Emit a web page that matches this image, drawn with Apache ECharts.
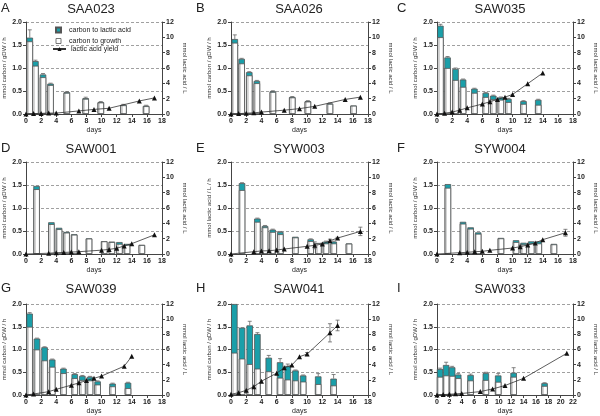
<!DOCTYPE html>
<html><head><meta charset="utf-8">
<script src="https://cdn.jsdelivr.net/npm/echarts@6/dist/echarts.min.js"></script>
<style>html,body{margin:0;padding:0;background:#fff}#c{width:600px;height:416px}</style>
</head><body><div id="c"></div>
<script>
// ---------- labels ----------
const panelLetters = ['A','B','C','D','E','F','G','H','I'];
const panelTitles = ['SAA023','SAA026','SAW035','SAW001','SYW003','SYW004','SAW039','SAW041','SAW033'];
const leftAxisNames = ['mmol carbon / gDW / h','mmol carbon / gDW / h','mmol carbon / gDW / h',
  'mmol carbon / gDW / h','mmol lactic acid / L / h','mmol carbon / gDW / h',
  'mmol carbon / gDW / h','mmol carbon / gDW / h','mmol carbon / gDW / h'];
const rightAxisName = 'mmol lactic acid / L';
const xAxisName = 'days';
const xMaxDays = [18,18,18,18,18,18,18,18,22];
const seriesNames = ['carbon to lactic acid','carbon to growth','lactic acid yield'];

// ---------- data ----------
// A SAA023
const A_barDays = [0.5,1.25,2.25,3.25,5.4,7.9,9.9,12.9,15.9];
const A_growth  = [1.58,1.05,0.80,0.63,0.46,0.33,0.25,0.19,0.17];
const A_lactic  = [0.08,0.10,0.06,0.03,0.015,0.015,0.01,0.01,0.01];
const A_barErr  = [0.17,0.02,0.02,0.01,0.01,0.02,0.01,0.01,0.01];
const A_yDays   = [0,1,2,3,4,7,9,11,15,17];
const A_yield   = [0,0.05,0.08,0.12,0.12,0.4,0.6,0.75,1.7,2.1];
const A_yErr    = [0,0,0,0,0,0,0,0,0,0];
// B SAA026
const B_barDays = [0.5,1.4,2.4,3.4,5.5,8.05,10.1,13.0,16.1];
const B_growth  = [1.55,1.10,0.84,0.67,0.48,0.36,0.27,0.22,0.18];
const B_lactic  = [0.08,0.10,0.07,0.05,0.015,0.01,0.01,0.01,0.005];
const B_barErr  = [0.09,0.01,0.01,0.01,0.01,0.01,0.01,0.01,0.0];
const B_yDays   = [0,1,2,3,4,7,9,11,15,17];
const B_yield   = [0,0.05,0.1,0.15,0.25,0.5,0.7,1.0,1.9,2.2];
const B_yErr    = [0,0,0,0,0,0,0,0,0,0];
// C SAW035
const C_barDays = [0.45,1.4,2.45,3.45,4.95,6.45,7.45,8.45,9.45,11.45,13.4];
const C_growth  = [1.67,1.0,0.74,0.59,0.46,0.37,0.32,0.31,0.26,0.22,0.2];
const C_lactic  = [0.25,0.23,0.24,0.16,0.09,0.09,0.08,0.05,0.07,0.06,0.11];
const C_barErr  = [0.03,0.02,0.02,0.01,0.01,0.01,0.01,0.01,0.01,0.01,0.01];
const C_yDays   = [0,1,2,3,4,6,7,8,9,10,12,14];
const C_yield   = [0,0.1,0.25,0.5,0.8,1.3,1.6,1.9,2.2,2.55,3.95,5.35];
const C_yErr    = [0,0,0,0,0,0,0,0,0,0,0,0];
// D SAW001
const D_barDays = [1.4,3.36,4.37,5.37,6.38,8.34,10.35,11.36,12.36,13.37,15.33];
const D_growth  = [1.41,0.65,0.54,0.465,0.42,0.335,0.275,0.26,0.22,0.2,0.195];
const D_lactic  = [0.07,0.04,0.03,0.015,0.01,0.005,0.005,0.01,0.04,0.02,0.005];
const D_barErr  = [0,0,0,0,0,0,0,0,0,0,0];
const D_yDays   = [0,3,4,5,6,7,10,11,12,13,14,17];
const D_yield   = [0,0.1,0.17,0.2,0.25,0.3,0.5,0.6,0.75,1.05,1.35,2.5];
const D_yErr    = [0,0,0,0,0,0,0,0,0,0,0,0];
// E SYW003
const E_barDays = [1.45,3.46,4.47,5.48,6.48,8.45,10.47,11.48,12.48,13.5,15.5];
const E_growth  = [1.39,0.70,0.58,0.48,0.43,0.36,0.28,0.235,0.23,0.23,0.225];
const E_lactic  = [0.15,0.07,0.03,0.05,0.05,0.015,0.04,0.005,0.04,0.04,0.005];
const E_barErr  = [0.01,0.01,0.01,0.01,0.01,0,0.01,0,0.01,0.01,0];
const E_yDays   = [0,3,4,5,6,7,10,11,12,13,14,17];
const E_yield   = [0,0.3,0.4,0.43,0.52,0.65,1.0,1.13,1.3,1.73,2.08,2.95];
const E_yErr    = [0,0,0,0,0,0,0,0.45,0.1,0.2,0.1,0.55];
// F SYW004
const F_barDays = [1.44,3.44,4.45,5.45,8.46,10.46,11.46,12.47,13.47,15.47];
const F_growth  = [1.44,0.66,0.55,0.44,0.34,0.26,0.21,0.23,0.23,0.21];
const F_lactic  = [0.08,0.04,0.03,0.03,0.01,0.04,0.035,0.045,0.045,0.01];
const F_barErr  = [0,0,0,0,0,0,0,0,0,0];
const F_yDays   = [0,3,4,5,6,7,10,11,12,13,14,17];
const F_yield   = [0,0.17,0.22,0.3,0.35,0.48,0.78,0.95,1.17,1.43,1.87,2.77];
const F_yErr    = [0,0,0,0,0,0,0,0.2,0,0,0,0.45];
// G SAW039
const G_barDays = [0.48,1.45,2.46,3.47,4.96,6.45,7.46,8.47,9.48,11.46,13.5];
const G_growth  = [1.5,1.0,0.76,0.62,0.48,0.37,0.33,0.32,0.23,0.19,0.15];
const G_lactic  = [0.29,0.24,0.29,0.16,0.1,0.09,0.09,0.08,0.07,0.06,0.12];
const G_barErr  = [0.02,0.01,0.01,0.01,0.01,0.01,0.01,0.01,0.01,0.01,0.01];
const G_yDays   = [0,1,3,4,6,7,8,9,10,13,14];
const G_yield   = [0,0.13,0.44,0.75,1.3,1.6,1.9,2.2,2.5,3.8,5.1];
const G_yErr    = [0,0,0,0,0,0,0,0,0,0,0];
// H SAW041
const H_barDays = [0.44,1.45,2.46,3.47,4.96,6.45,7.46,8.47,9.48,11.46,13.48];
const H_growth  = [0.93,0.80,0.68,0.58,0.52,0.38,0.34,0.32,0.295,0.24,0.21];
const H_lactic  = [1.07,0.68,0.85,0.76,0.30,0.34,0.30,0.22,0.135,0.17,0.15];
const H_barErr  = [0,0,0.09,0.03,0.05,0.08,0.04,0.01,0.01,0.06,0.09];
const H_yDays   = [0,1,2,3,4,6,7,8,9,10,13,14];
const H_yield   = [0.1,0.3,0.62,1.1,1.82,2.88,3.58,3.94,5.05,5.4,8.2,9.17];
const H_yErr    = [0,0,0,0,0,0,0,0,0,0.2,1.2,0.7];
// I SAW033
const I_barDays = [0.5,1.48,2.45,3.43,5.43,7.9,9.9,12.4,17.4];
const I_growth  = [0.40,0.43,0.42,0.37,0.32,0.33,0.29,0.40,0.2];
const I_lactic  = [0.17,0.23,0.19,0.08,0.12,0.15,0.14,0.09,0.06];
const I_barErr  = [0.02,0.06,0.02,0.02,0.02,0.02,0.04,0.11,0.01];
const I_yDays   = [0,1,2,3,4,7,9,11,14,21];
const I_yield   = [0,0.05,0.1,0.15,0.2,0.45,0.8,1.25,2.2,5.5];
const I_yErr    = [0,0,0,0,0,0,0,0,0,0];

const panels = [
  [A_barDays,A_growth,A_lactic,A_barErr,A_yDays,A_yield,A_yErr],
  [B_barDays,B_growth,B_lactic,B_barErr,B_yDays,B_yield,B_yErr],
  [C_barDays,C_growth,C_lactic,C_barErr,C_yDays,C_yield,C_yErr],
  [D_barDays,D_growth,D_lactic,D_barErr,D_yDays,D_yield,D_yErr],
  [E_barDays,E_growth,E_lactic,E_barErr,E_yDays,E_yield,E_yErr],
  [F_barDays,F_growth,F_lactic,F_barErr,F_yDays,F_yield,F_yErr],
  [G_barDays,G_growth,G_lactic,G_barErr,G_yDays,G_yield,G_yErr],
  [H_barDays,H_growth,H_lactic,H_barErr,H_yDays,H_yield,H_yErr],
  [I_barDays,I_growth,I_lactic,I_barErr,I_yDays,I_yield,I_yErr]
];

// ---------- layout / style ----------
const FONT = 'Liberation Sans, Arial, sans-serif';
const TEAL = '#1a9fa9';
const colLeft = [25,231,437];
const rowTop = [22,162,304];
const PW = 137, PH = 92;
const titleX = [91,299,500];
const titleY = [3,143,283];
const letterX = [1,196,397];
const growthFill = {type:'linear', x:0, y:0, x2:1, y2:0, colorStops:[
  {offset:0, color:'#d4d4d4'}, {offset:0.38, color:'#d4d4d4'},
  {offset:0.39, color:'#ffffff'}, {offset:1, color:'#ffffff'}]};

const chart = echarts.init(document.getElementById('c'), null, {renderer:'canvas'});
const grid = [], xAxis = [], yAxis = [], series = [], title = [];

function errRender(params, api){
  const x = api.value(0), y0 = api.value(1), e = api.value(2), two = api.value(3);
  if (!e) return null;
  const top = api.coord([x, y0 + e]);
  const bot = api.coord([x, two ? y0 - e : y0]);
  const c = '#666';
  const children = [
    {type:'line', shape:{x1:top[0],y1:top[1],x2:bot[0],y2:bot[1]}, style:{stroke:c,lineWidth:0.8}},
    {type:'line', shape:{x1:top[0]-2,y1:top[1],x2:top[0]+2,y2:top[1]}, style:{stroke:c,lineWidth:0.8}}
  ];
  if (two) children.push({type:'line', shape:{x1:bot[0]-2,y1:bot[1],x2:bot[0]+2,y2:bot[1]}, style:{stroke:c,lineWidth:0.8}});
  return {type:'group', children};
}

panels.forEach((p, i) => {
  const [bDays, growth, lactic, bErr, yDays, yld, yErr] = p;
  const col = i % 3, row = Math.floor(i / 3);
  grid.push({left: colLeft[col], top: rowTop[row], width: PW, height: PH});
  const axisLine = {show:true, lineStyle:{color:'#444', width:1}};
  const axisTick = {show:true, length:3, lineStyle:{color:'#444', width:1}};
  const lbl = {fontSize:7, color:'#222', fontFamily:FONT, fontWeight:'bold'};
  xAxis.push({type:'value', gridIndex:i, min:0, max:xMaxDays[i], interval:2,
    name:xAxisName, nameLocation:'middle', nameGap:13,
    nameTextStyle:{fontSize:7, color:'#222', fontFamily:FONT},
    axisLine, axisTick, axisLabel:{...lbl, margin:4}, splitLine:{show:false}});
  yAxis.push({type:'value', gridIndex:i, position:'left', min:0, max:2, interval:0.5,
    name:leftAxisNames[i], nameLocation:'middle', nameGap:19,
    nameTextStyle:{fontSize:6, color:'#333', fontFamily:FONT},
    axisLine, axisTick, axisLabel:{...lbl, margin:4, formatter: v => v.toFixed(1)},
    splitLine:{show:true, lineStyle:{color:'#888', type:[3,2], width:0.8}}});
  yAxis.push({type:'value', gridIndex:i, position:'right', min:0, max:12, interval:2,
    name:rightAxisName, nameLocation:'middle', nameGap:20, nameRotate:-90,
    nameTextStyle:{fontSize:6, color:'#333', fontFamily:FONT},
    axisLine, axisTick, axisLabel:{...lbl, margin:4}, splitLine:{show:false}});
  const yl = 2*i, yr = 2*i + 1;
  series.push({name:seriesNames[0], type:'bar', xAxisIndex:i, yAxisIndex:yl,
    barWidth:6.5, barGap:'-100%',
    itemStyle:{color:TEAL, borderColor:'#555', borderWidth:0.8},
    data: bDays.map((d,j) => [d, +(growth[j] + lactic[j]).toFixed(4)]), z:2});
  series.push({name:seriesNames[1], type:'bar', xAxisIndex:i, yAxisIndex:yl,
    barWidth:6.5, barGap:'-100%',
    itemStyle:{color:growthFill, borderColor:'#555', borderWidth:0.8},
    data: bDays.map((d,j) => [d, growth[j]]), z:3});
  series.push({type:'custom', xAxisIndex:i, yAxisIndex:yl, renderItem:errRender, z:4,
    data: bDays.map((d,j) => [d, growth[j] + lactic[j], bErr[j], 0])});
  series.push({name:seriesNames[2], type:'line', xAxisIndex:i, yAxisIndex:yr,
    symbol:'triangle', symbolSize:5, showSymbol:true,
    itemStyle:{color:'#111'}, lineStyle:{color:'#333', width:0.8},
    data: yDays.map((d,j) => [d, yld[j]]), z:6});
  series.push({type:'custom', xAxisIndex:i, yAxisIndex:yr, renderItem:errRender, z:5,
    data: yDays.map((d,j) => [d, yld[j], yErr[j], 1])});
  title.push({text:panelTitles[i], left:titleX[col], top:titleY[row], textAlign:'center',
    textStyle:{fontSize:13, fontWeight:'normal', color:'#222', fontFamily:FONT}, padding:0});
  title.push({text:panelLetters[i], left:letterX[col], top:titleY[row]-1,
    textStyle:{fontSize:13, fontWeight:'normal', color:'#222', fontFamily:FONT}, padding:0});
});

const option = {
  animation:false,
  backgroundColor:'#fff',
  title, grid, xAxis, yAxis, series,
  legend:[
    {data:[{name:seriesNames[0], icon:'rect'},
           {name:seriesNames[1], icon:'rect', itemStyle:{color:'#ffffff', borderColor:'#555', borderWidth:0.8}}],
     orient:'vertical', left:55, top:26, itemWidth:5, itemHeight:5, itemGap:3, padding:0,
     textStyle:{fontSize:7, color:'#222', fontFamily:FONT, lineHeight:8, padding:[0,0,0,3]}},
    {data:[seriesNames[2]], orient:'vertical', left:52, top:45, itemWidth:13, itemHeight:5, padding:0,
     textStyle:{fontSize:7, color:'#222', fontFamily:FONT, lineHeight:8}}
  ]
};
chart.setOption(option);
</script></body></html>
